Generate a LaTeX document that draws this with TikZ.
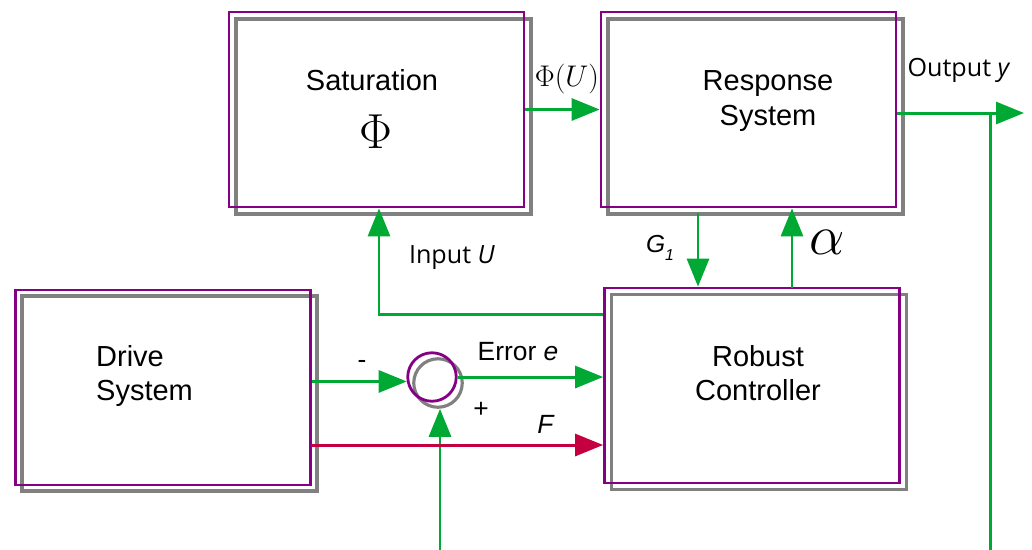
\RequirePackage{fix-cm}
\documentclass[tikz,border=0pt]{standalone}
\usepackage[no-math]{fontspec}
\setmainfont{Liberation Sans}
\newfontfamily\labelfont{Open Sans}
\usetikzlibrary{arrows.meta}

\definecolor{blockpurple}{RGB}{134,0,134}
\definecolor{shadowgray}{RGB}{128,128,128}
\definecolor{signalgreen}{RGB}{0,169,51}
\definecolor{signalred}{RGB}{196,0,64}

\tikzset{
  block/.style={draw=blockpurple, line width=1.6pt, minimum width=5.9cm, minimum height=3.9cm},
  blockshade/.style={draw=shadowgray, line width=1.8pt, minimum width=5.9cm, minimum height=3.9cm},
  blocktext/.style={align=center, font=\fontsize{16.5}{19.5}\selectfont},
  sumpoint/.style={circle, draw=blockpurple, line width=1.6pt, minimum size=0.97cm, inner sep=0pt},
  sumshade/.style={circle, draw=shadowgray, line width=1.8pt, minimum size=0.97cm, inner sep=0pt},
  sigarrow/.style={draw=signalgreen, line width=1.7pt, -{Triangle[length=0.56cm, width=0.44cm]}},
  lbl/.style={font=\fontsize{15}{18}\selectfont},
  sidelbl/.style={font=\labelfont\fontsize{14.3}{17}\selectfont},
}

\begin{document}
\begin{tikzpicture}[x=0.02cm, y=-0.02cm]
  \useasboundingbox (0,0) rectangle (1032,549);

  % gray copies behind the blocks
  \node[blockshade] (satshade) at (383.5,116.5) {};
  \node[blockshade] (respshade) at (755.5,116.5) {};
  \node[blockshade] (ctrlshade) at (759,392) {};
  \node[blockshade] (driveshade) at (169.5,393.5) {};
  \node[sumshade] (sumshadow) at (438,383) {};

  \node[block] (sat) at (376.5,109.5) {};
  \node[block] (resp) at (748.5,109.5) {};
  \node[block] (ctrl) at (752,385.5) {};
  \node[block] (drive) at (163,387.5) {};
  \node[sumpoint] (sum) at (432,377) {};

  % block texts
  \node[blocktext] (sattxt) at (372,80) {Saturation};
  \node[font=\fontsize{28}{28}\selectfont] (phitxt) at (376,132) {$\Phi$};
  \node[blocktext] (resptxt) at (768,101) {Response\\System};
  \node[blocktext] (ctrltxt) at (758,373) {Robust\\Controller};
  \node[blocktext, align=left, anchor=west] (drivetxt) at (90,376) {Drive\\System};

  % forward path
  \draw[sigarrow] (sat.east) -- (resp.west);
  \node[font=\fontsize{17}{17}\selectfont] (phiu) at (567,79) {$\Phi(U)$};

  \coordinate (yout) at (1024,113);
  \coordinate (tap) at (990,113);
  \draw[sigarrow] (resp.east |- yout) -- (yout);
  \node[sidelbl] (outlbl) at (959,70) {Output \textit{y}};

  % feedback to the summing point
  \coordinate (loopcorner) at (990,560);
  \coordinate (loopleft) at (440,560);
  \draw[sigarrow] (tap) -- (loopcorner) -- (loopleft) -- (loopleft |- sumshadow.south);

  \draw[sigarrow] (drive.east |- sum.190) -- (sum.190);
  \node[lbl] (minus) at (362,364) {-};
  \node[lbl] (plus) at (481,410) {+};

  \draw[sigarrow] (sum.east) -- (sum.east -| ctrl.west);
  \node[lbl] (errlbl) at (518,352) {Error \textit{e}};

  \coordinate (fstart) at (311,445);
  \draw[draw=signalred, line width=1.7pt, -{Triangle[length=0.56cm, width=0.44cm]}] (fstart) -- (fstart -| ctrl.west);
  \node[lbl] (flbl) at (546,424) {\textit{F}};

  % controller and plant
  \coordinate (gtop) at (698,213);
  \draw[sigarrow] (gtop) -- (gtop |- ctrl.north);
  \node[font=\fontsize{14}{17}\selectfont] (glbl) at (660,248) {\textit{G}\raisebox{-5pt}{\fontsize{9}{9}\selectfont\textit{1}}};

  \coordinate (abot) at (792,288);
  \draw[sigarrow] (abot) -- (abot |- resp.south);
  \node[font=\fontsize{32}{32}\selectfont] (alpha) at (827,242) {$\alpha$};

  \coordinate (ubend) at (379,314);
  \draw[sigarrow] (ubend -| ctrl.west) -- (ubend) -- (ubend |- sat.south);
  \node[sidelbl] (ulbl) at (452,258) {Input \textit{U}};
\end{tikzpicture}
\end{document}
